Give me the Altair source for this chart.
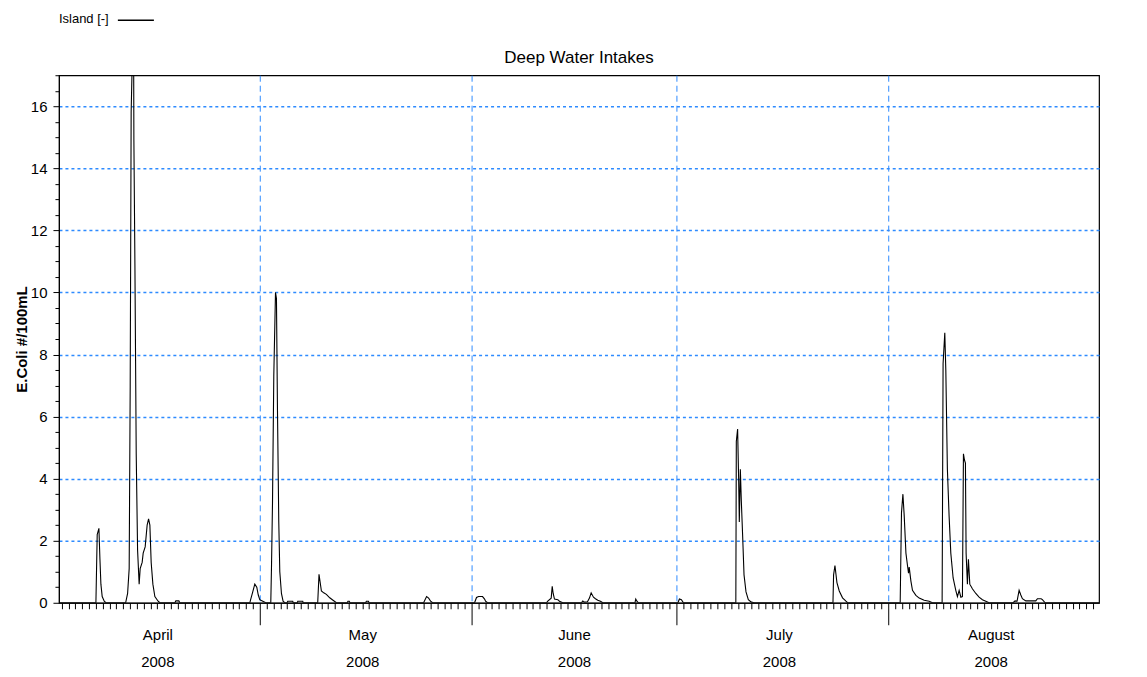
import altair as alt
import pandas as pd

# ---- data: days since 2008-04-01 00:00 UTC, and E.Coli value ----
days = [
    0.6,
    6.01, 6.20, 6.45, 6.60, 6.74, 6.93, 7.23, 7.47,
    10.36, 10.65, 10.88, 11.03, 11.17, 11.38, 11.53, 11.57, 11.72, 11.91, 12.11, 12.34,
    12.49, 12.78, 12.93, 13.22, 13.51, 13.72, 13.91, 14.10, 14.35, 14.64, 15.12, 15.37,
    17.57, 17.71, 18.15, 18.30,
    28.54, 28.68, 28.97, 29.27, 29.56, 29.78, 30.00, 30.44, 30.88,
    31.61, 31.71, 31.86, 32.05, 32.30, 32.44, 32.59, 32.78, 32.93, 33.17, 33.41, 33.65,
    34.00, 34.09, 34.82, 34.90,
    35.50, 35.56, 36.29, 36.35,
    38.48, 38.67, 39.02, 39.36, 39.75, 40.24, 40.72, 41.22,
    42.80, 42.91, 43.10, 43.20,
    45.50, 45.60, 45.90, 46.00,
    53.98, 54.42, 54.72, 55.01, 55.30,
    61.44, 61.73, 62.03, 62.61, 62.91, 63.05, 63.35,
    71.97, 72.16, 72.66, 72.81, 72.95, 73.14, 73.63, 73.87, 74.36,
    77.09, 77.28, 77.53, 77.97, 78.26, 78.51, 78.85, 79.14, 79.48, 79.87, 80.21,
    84.92, 85.04, 85.21, 85.43,
    91.21, 91.43, 91.72, 92.02,
    99.69, 99.76, 99.95, 100.10, 100.20, 100.35, 100.49, 100.68, 100.89, 101.18, 101.52, 101.96, 102.40,
    113.91, 114.00, 114.20, 114.49, 114.83, 115.31, 115.81, 116.05,
    123.75, 123.94, 124.15, 124.34, 124.59, 124.82, 124.97, 125.07, 125.32, 125.55, 126.05, 126.53,
    127.26, 127.99, 128.47,
    129.89, 130.03, 130.28, 130.43, 130.66, 130.91, 131.16, 131.50, 131.89, 132.13, 132.38, 132.63,
    132.86, 133.01, 133.16, 133.30, 133.40, 133.59, 133.74, 133.94, 134.32, 134.82, 135.30, 135.79,
    136.28, 136.76,
    140.28, 140.57, 140.86, 141.16, 141.41, 141.64, 142.14, 143.60, 143.84, 144.38, 144.57, 144.97,
    152.86,
]
ecoli = [
    0,
    0, 2.2, 2.4, 1.4, 0.6, 0.2, 0.05, 0,
    0, 0.3, 1.1, 7.0, 15.8, 18.0, 18.0, 14.9, 10.9, 4.8, 1.7, 0.6,
    1.1, 1.3, 1.6, 1.8, 2.5, 2.7, 2.5, 1.3, 0.6, 0.2, 0.05, 0,
    0, 0.06, 0.06, 0,
    0, 0.12, 0.35, 0.6, 0.5, 0.25, 0.1, 0.05, 0,
    0, 1.1, 3.2, 7.3, 10.0, 9.8, 6.2, 2.6, 1.0, 0.3, 0.05, 0,
    0, 0.05, 0.05, 0,
    0, 0.05, 0.05, 0,
    0, 0.92, 0.38, 0.32, 0.27, 0.16, 0.08, 0,
    0, 0.05, 0.05, 0,
    0, 0.05, 0.05, 0,
    0, 0.2, 0.15, 0.05, 0,
    0, 0.17, 0.2, 0.2, 0.12, 0.05, 0,
    0, 0.05, 0.15, 0.53, 0.3, 0.12, 0.1, 0.05, 0,
    0, 0.06, 0.02, 0.03, 0.15, 0.32, 0.18, 0.13, 0.08, 0.05, 0,
    0, 0.12, 0.05, 0,
    0, 0.12, 0.1, 0,
    0, 5.2, 5.6, 4.0, 2.6, 4.3, 3.3, 2.2, 0.9, 0.35, 0.1, 0.02, 0,
    0, 0.9, 1.2, 0.65, 0.38, 0.16, 0.05, 0,
    0, 2.9, 3.5, 2.8, 1.6, 1.2, 0.95, 1.15, 0.7, 0.4, 0.24, 0.15,
    0.08, 0.05, 0,
    0, 7.7, 8.7, 7.5, 4.3, 2.8, 1.6, 0.8, 0.4, 0.2, 0.4, 0.18,
    0.2, 4.8, 4.6, 4.5, 1.6, 0.6, 1.4, 0.6, 0.45, 0.3, 0.18, 0.1,
    0.05, 0,
    0, 0.06, 0.05, 0.4, 0.25, 0.13, 0.06, 0.06, 0.13, 0.13, 0.1, 0,
    0,
]
series_name = "Island [-]"
chart_title = "Deep Water Intakes"
y_title = "E.Coli #/100mL"
y_ticks = [i * 0.5 for i in range(35)]

origin = pd.Timestamp("2008-04-01", tz="UTC")
DAY_MS = 86400000
origin_ms = int(origin.value // 10**6)
t_ms = [origin_ms + int(round(d * DAY_MS)) for d in days]
day_ticks = [int(ts.value // 10**6) for ts in pd.date_range("2008-04-02", "2008-08-31", freq="D", tz="UTC")]
x_domain = [origin_ms + int(0.6 * DAY_MS), origin_ms + int(152.86 * DAY_MS)]

df = pd.DataFrame({"t": t_ms, "v": ecoli, "series": series_name})

FONT = "Liberation Sans, Arial, sans-serif"
BLUE = "#2E8BFF"

x_axis = alt.Axis(
    title=None,
    values=day_ticks,
    labelExpr="utcdate(datum.value) == 16 ? [utcFormat(datum.value, '%B'), utcFormat(datum.value, '%Y')] : ''",
    labelOverlap=False,
    labelFlush=False,
    labelAngle=0,
    labelAlign="center",
    labelBaseline="top",
    labelFont=FONT,
    labelFontSize=15,
    labelLineHeight=27,
    labelColor="black",
    labelPadding=19,
    tickSize={"condition": {"test": "utcdate(datum.value) == 1", "value": 22}, "value": 6},
    tickColor="black",
    domainColor="black",
    grid=True,
    gridColor=BLUE,
    gridDash=[6, 4],
    gridWidth=1,
    gridOpacity={"condition": {"test": "utcdate(datum.value) == 1", "value": 1}, "value": 0},
)

y_axis = alt.Axis(
    title=y_title,
    values=y_ticks,
    format=".0f",
    labelExpr="datum.value % 2 == 0 ? datum.label : ''",
    labelOverlap=False,
    labelFont=FONT,
    labelFontSize=15,
    labelColor="black",
    labelPadding=6,
    tickSize={"condition": {"test": "datum.value % 2 == 0", "value": 6}, "value": 4},
    tickColor="black",
    domainColor="black",
    grid=True,
    gridColor=BLUE,
    gridDash=[3, 3],
    gridWidth=1.5,
    gridOpacity={"condition": {"test": "datum.value % 2 == 0 && datum.value > 0", "value": 1}, "value": 0},
    titleFont=FONT,
    titleFontSize=15,
    titleFontWeight="bold",
    titleColor="black",
    titlePadding=1,
)

chart = (
    alt.Chart(df)
    .mark_line(strokeWidth=1.1, clip=True, interpolate="linear")
    .encode(
        x=alt.X("t:T", scale=alt.Scale(type="utc", domain=x_domain, nice=False), axis=x_axis),
        y=alt.Y("v:Q", scale=alt.Scale(domain=[0, 17], nice=False), axis=y_axis),
        color=alt.Color(
            "series:N",
            scale=alt.Scale(range=["black"]),
            legend=alt.Legend(
                title=series_name,
                orient="none",
                legendX=0,
                legendY=-74,
                titleOrient="left",
                titleAnchor="middle",
                titleBaseline="top",
                titleFont=FONT,
                titleFontSize=13,
                titleFontWeight="normal",
                titleColor="black",
                titlePadding=8,
                labelExpr="''",
                symbolType="stroke",
                symbolSize=1300,
                symbolStrokeWidth=1.5,
                symbolStrokeColor="black",
            ),
        ),
    )
    .properties(
        width=1041,
        height=528,
        background="white",
        title=alt.TitleParams(chart_title, font=FONT, fontSize=17, fontWeight="normal",
                              anchor="middle", offset=-66, color="black"),
        autosize=alt.AutoSizeParams(type="none"),
        padding={"left": 51, "top": 67, "right": 40, "bottom": 70},
    )
    .configure_view(stroke="black", strokeWidth=1.2)
)

chart.save("out.html", embed_options={"renderer": "svg", "actions": False})
